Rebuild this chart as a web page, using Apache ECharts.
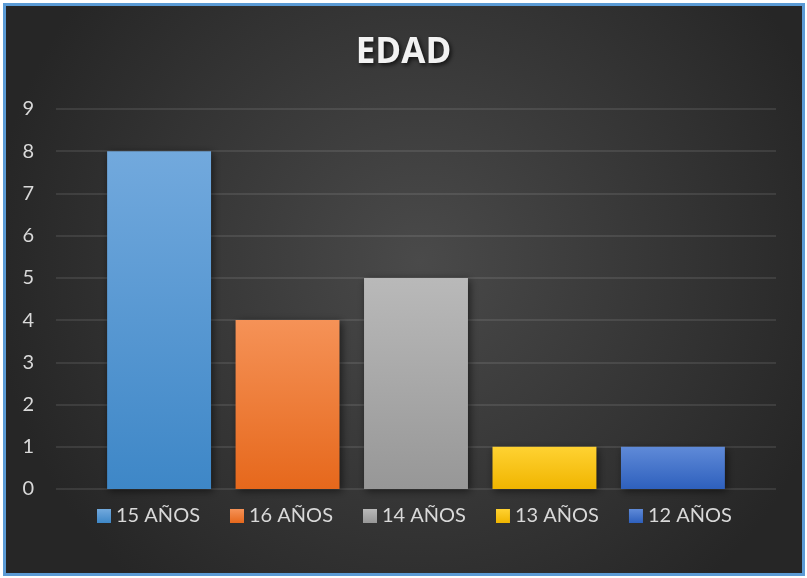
<!DOCTYPE html>
<html>
<head>
<meta charset="utf-8">
<script src="https://cdn.jsdelivr.net/npm/echarts@6/dist/echarts.min.js"></script>
<style>
  html, body { margin: 0; padding: 0; background: #fff; }
  #chart { width: 807px; height: 578px; }
</style>
</head>
<body>
<div id="chart"></div>
<script>
// datos
var categories = ['EDAD'];
var seriesNames = ['15 AÑOS', '16 AÑOS', '14 AÑOS', '13 AÑOS', '12 AÑOS'];
var seriesValues = [8, 4, 5, 1, 1];
var yTicks = [0, 1, 2, 3, 4, 5, 6, 7, 8, 9];

// colores arriba / abajo del degradado de cada barra
var topColors = ['#72a9dd', '#f59257', '#b9b9b9', '#ffd232', '#5f8ad8'];
var bottomColors = ['#3e87c7', '#e6681c', '#979797', '#f0b500', '#2e60bd'];

var chart = echarts.init(document.getElementById('chart'));

var series = seriesNames.map(function (name, i) {
	return {
		name: name,
		type: 'bar',
		data: [seriesValues[i]],
		barGap: '23.6%',
		barCategoryGap: '14.2%',
		itemStyle: {
			color: new echarts.graphic.LinearGradient(0, 0, 0, 1, [
				{ offset: 0, color: topColors[i] },
				{ offset: 1, color: bottomColors[i] }
			]),
			shadowColor: 'rgba(0,0,0,0.55)',
			shadowBlur: 8,
			shadowOffsetX: 2,
			shadowOffsetY: 2
		},
		emphasis: { disabled: true }
	};
});

var option = {
	backgroundColor: '#ffffff',
	animation: false,
	graphic: [{
		type: 'rect',
		z: -10,
		silent: true,
		shape: { x: 4.5, y: 4.5, width: 799, height: 570 },
		style: {
			fill: new echarts.graphic.RadialGradient(0.52, 0.45, 0.75, [
				{ offset: 0, color: '#4a4a4a' },
				{ offset: 1, color: '#262626' }
			]),
			stroke: '#5b9bd5',
			lineWidth: 3
		}
	}],
	title: {
		text: 'EDAD',
		left: 'center',
		top: 31,
		textStyle: {
			color: '#f2f2f2',
			fontFamily: 'Open Sans',
			fontWeight: 'bold',
			fontSize: 35,
			textShadowColor: 'rgba(0,0,0,0.7)',
			textShadowBlur: 4,
			textShadowOffsetX: 2,
			textShadowOffsetY: 2
		}
	},
	legend: {
		data: seriesNames,
		bottom: 47,
		left: 92,
		icon: 'rect',
		itemWidth: 14,
		itemHeight: 14,
		itemGap: 30,
		textStyle: { color: '#d9d9d9', fontSize: 20, fontFamily: 'Lato' }
	},
	grid: { left: 56, right: 31, top: 109, bottom: 89, containLabel: false },
	xAxis: {
		type: 'category',
		data: categories,
		axisLine: { show: false },
		axisTick: { show: false },
		axisLabel: { show: false }
	},
	yAxis: {
		type: 'value',
		min: yTicks[0],
		max: yTicks[yTicks.length - 1],
		interval: 1,
		axisLine: { show: false },
		axisTick: { show: false },
		axisLabel: { color: '#d9d9d9', fontSize: 20, fontFamily: 'Lato', margin: 22 },
		splitLine: { lineStyle: { color: 'rgba(255,255,255,0.13)', width: 1.5 } }
	},
	series: series
};

chart.setOption(option);
</script>
</body>
</html>
